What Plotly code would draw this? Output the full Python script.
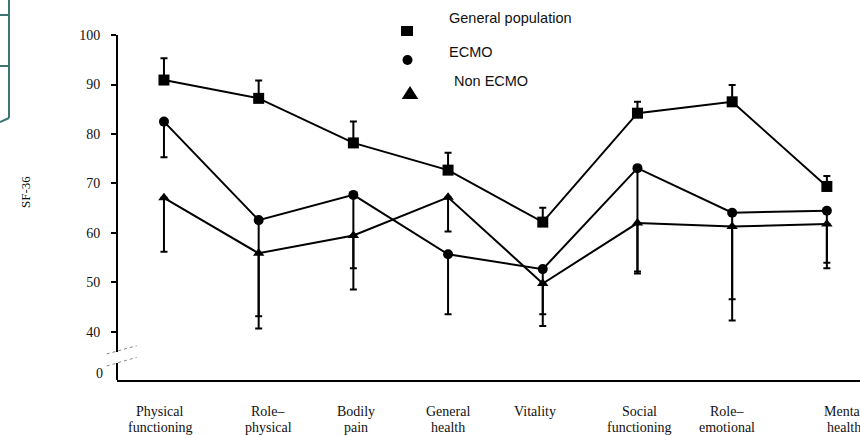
import plotly.graph_objects as go

# ---------------- data ----------------
categories = ["Physical<br>functioning", "Role–<br>physical", "Bodily<br>pain", "General<br>health",
              "Vitality", "Social<br>functioning", "Role–<br>emotional", "Mental<br>health"]
gen_pop = [90.9, 87.2, 78.2, 72.7, 62.2, 84.2, 86.5, 69.4]
gen_pop_err = [4.4, 3.6, 4.3, 3.5, 2.9, 2.3, 3.4, 2.1]
ecmo = [82.5, 62.6, 67.7, 55.7, 52.7, 73.1, 64.1, 64.5]
ecmo_err = [7.2, 21.9, 19.1, 12.1, 11.5, 21.3, 21.8, 11.6]
non_ecmo = [67.1, 55.9, 59.5, 67.2, 49.8, 62.0, 61.3, 61.8]
non_ecmo_err = [10.9, 12.7, 6.6, 6.9, 6.2, 9.8, 14.7, 7.8]
ytick_vals = [40, 50, 60, 70, 80, 90, 100]
ytick_text = ["40", "50", "60", "70", "80", "90", "100"]
series_names = ["General population", "ECMO", "Non ECMO"]

# ---------------- layout helpers ----------------
W, H = 860, 435
ML, MR, MT, MB = 117, 0, 35, 55
PW, PH = W - ML - MR, H - MT - MB


def px(x):
    return (x - ML) / PW


def py(y):
    return (H - MB - y) / PH


xs = list(range(len(categories)))
label_shift = [-0.04, 0.10, 0.03, 0.0, -0.08, 0.02, -0.05, 0.18]

fig = go.Figure()

line_style = dict(color="black", width=2)
err_style = dict(color="black", thickness=2, width=3.5)

fig.add_trace(go.Scatter(
    x=xs, y=gen_pop, mode="lines+markers", name=series_names[0],
    line=line_style, marker=dict(symbol="square", size=11, color="black"),
    error_y=dict(type="data", symmetric=False, array=gen_pop_err,
                 arrayminus=[0] * len(gen_pop), **err_style),
    showlegend=False))
fig.add_trace(go.Scatter(
    x=xs, y=ecmo, mode="lines+markers", name=series_names[1],
    line=line_style, marker=dict(symbol="circle", size=10, color="black"),
    error_y=dict(type="data", symmetric=False, array=[0] * len(ecmo),
                 arrayminus=ecmo_err, **err_style),
    showlegend=False))
fig.add_trace(go.Scatter(
    x=xs, y=non_ecmo, mode="lines+markers", name=series_names[2],
    line=line_style, marker=dict(symbol="triangle-up", size=10, color="black"),
    error_y=dict(type="data", symmetric=False, array=[0] * len(non_ecmo),
                 arrayminus=non_ecmo_err, **err_style),
    showlegend=False))

serif = "Liberation Serif, Times New Roman, serif"
sans = "Liberation Sans, Arial, sans-serif"

annotations = []
# category labels (two lines each)
for i, c in enumerate(categories):
    parts = c.split("<br>")
    for j, t in enumerate(parts):
        annotations.append(dict(
            x=xs[i] + label_shift[i], xref="x", y=py(411.5 + 16 * j), yref="paper",
            text=t, showarrow=False, xanchor="center", yanchor="middle",
            font=dict(family=serif, size=14, color="#111")))

# "0" label on broken axis
annotations.append(dict(x=0, xref="paper", xshift=-12, y=py(373.5), yref="paper",
                        text="0", showarrow=False, xanchor="right", yanchor="middle",
                        font=dict(family=serif, size=14, color="#111")))
# y axis title
annotations.append(dict(x=px(25), xref="paper", y=py(192), yref="paper", text="SF-36",
                        textangle=-90, showarrow=False, xanchor="center", yanchor="middle",
                        font=dict(family=serif, size=13, color="#111")))
# legend texts
leg_text_pos = [(447, 17.7), (447, 51.7), (452, 81)]
for name, (lx, ly) in zip(series_names, leg_text_pos):
    annotations.append(dict(x=px(lx), xref="paper", y=py(ly), yref="paper", text=name,
                            showarrow=False, xanchor="left", yanchor="middle",
                            font=dict(family=sans, size=14.5, color="#111")))

shapes = []
# broken y axis line
shapes.append(dict(type="line", xref="paper", yref="paper", x0=0, x1=0, y0=1, y1=py(352),
                   line=dict(color="black", width=2)))
shapes.append(dict(type="line", xref="paper", yref="paper", x0=0, x1=0, y0=py(363), y1=0,
                   line=dict(color="black", width=2)))
# break marks
shapes.append(dict(type="line", xref="paper", yref="paper", x0=px(106.7), y0=py(354),
                   x1=px(136.7), y1=py(345.7), line=dict(color="#888", width=1, dash="dot")))
shapes.append(dict(type="line", xref="paper", yref="paper", x0=px(106.7), y0=py(366),
                   x1=px(136.7), y1=py(357.3), line=dict(color="#888", width=1, dash="dot")))
# legend markers
shapes.append(dict(type="rect", xref="paper", yref="paper", x0=px(401), x1=px(413),
                   y0=py(36), y1=py(26), fillcolor="black", line=dict(width=0)))
shapes.append(dict(type="circle", xref="paper", yref="paper", x0=px(402.5), x1=px(412.5),
                   y0=py(65), y1=py(55), fillcolor="black", line=dict(width=0)))
shapes.append(dict(type="path", xref="paper", yref="paper",
                   path=f"M {px(401.7)} {py(99)} L {px(418.3)} {py(99)} L {px(410)} {py(86)} Z",
                   fillcolor="black", line=dict(width=0)))
# teal fragment at top-left corner
teal = "#3d7474"
for seg in [((9, 0), (9, 118)), ((0, 15), (9, 15)), ((0, 66), (9, 66)), ((9, 118), (0, 122))]:
    (a, b), (c, d) = seg
    shapes.append(dict(type="line", xref="paper", yref="paper", x0=px(a), y0=py(b),
                       x1=px(c), y1=py(d), line=dict(color=teal, width=2)))

fig.update_layout(
    width=W, height=H,
    margin=dict(l=ML, r=MR, t=MT, b=MB),
    paper_bgcolor="white", plot_bgcolor="white",
    xaxis=dict(range=[-0.496, 7.35], showline=True, linewidth=2, linecolor="black",
               showticklabels=False, ticks="", showgrid=False, zeroline=False),
    yaxis=dict(range=[30.3, 100], showline=False, ticks="outside", ticklen=5, tickwidth=2,
               tickcolor="black", tickvals=ytick_vals, ticktext=ytick_text,
               tickfont=dict(family=serif, size=14, color="#111"),
               ticklabelstandoff=8, showgrid=False, zeroline=False),
    annotations=annotations, shapes=shapes, showlegend=False,
)

fig.write_html("out.html")
